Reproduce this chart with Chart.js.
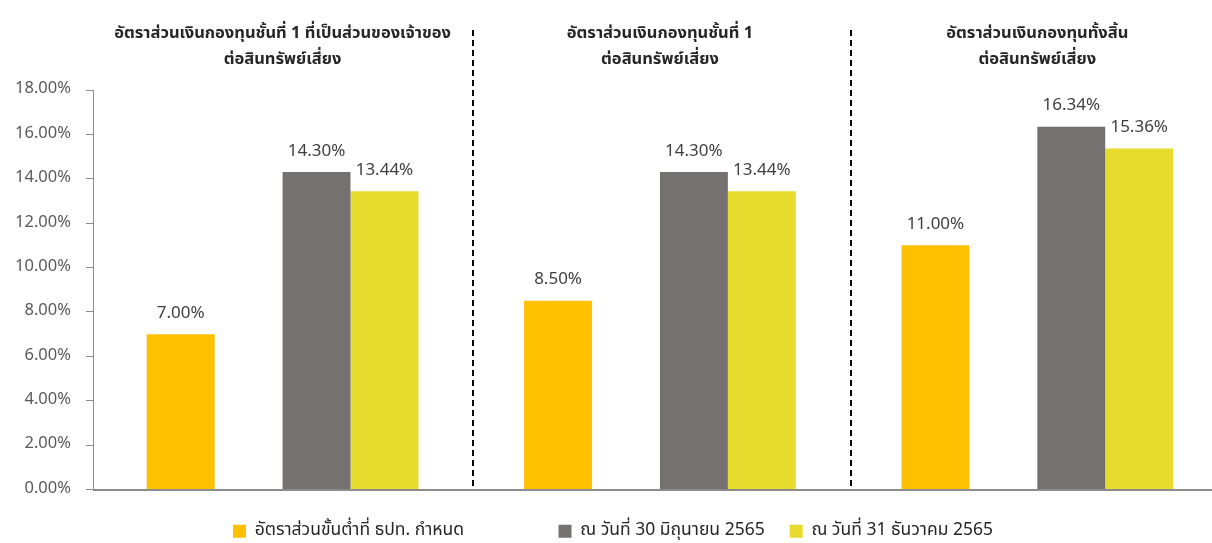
<!DOCTYPE html>
<html>
<head>
<meta charset="utf-8">
<script src="https://cdn.jsdelivr.net/npm/chart.js@4.4.1/dist/chart.umd.min.js"></script>
<style>
    html, body { margin: 0; padding: 0; background: #fff; overflow: hidden; }
    #wrap { width: 1226px; height: 543px; position: relative; }
</style>
</head>
<body>
<div id="wrap"><canvas id="capitalChart"></canvas></div>
<script>
// group titles (drawn on the top axis)
var groupTitles = [
    ['อัตราส่วนเงินกองทุนชั้นที่ 1 ที่เป็นส่วนของเจ้าของ', 'ต่อสินทรัพย์เสี่ยง'],
    ['อัตราส่วนเงินกองทุนชั้นที่ 1', 'ต่อสินทรัพย์เสี่ยง'],
    ['อัตราส่วนเงินกองทุนทั้งสิ้น', 'ต่อสินทรัพย์เสี่ยง']
];
var seriesNames = [
    'อัตราส่วนขั้นต่ำที่ ธปท. กำหนด',
    'ณ วันที่ 30 มิถุนายน 2565',
    'ณ วันที่ 31 ธันวาคม 2565'
];
var minimumRatio = [7.00, 8.50, 11.00];
var ratioJun2565 = [14.30, 14.30, 16.34];
var ratioDec2565 = [13.44, 13.44, 15.36];
var yTicks = [0, 2, 4, 6, 8, 10, 12, 14, 16, 18];

var thaiFont = "Tahoma, 'Noto Sans Thai', 'Noto Sans', 'Liberation Sans', sans-serif";

document.addEventListener('DOMContentLoaded', function () {
    var ctx = document.getElementById('capitalChart').getContext('2d');

    // dashed separators between the groups
    var separators = {
        id: 'separators',
        afterDraw: function (chart) {
            var x = chart.scales.x, area = chart.chartArea, c = chart.ctx;
            c.save();
            c.strokeStyle = '#000';
            c.lineWidth = 2;
            c.setLineDash([6, 4]);
            for (var i = 1; i < groupTitles.length; i++) {
                var px = Math.round((x.getPixelForValue(i - 1) + x.getPixelForValue(i)) / 2) + 2;
                c.beginPath();
                c.moveTo(px, 30);
                c.lineTo(px, area.bottom - 2);
                c.stroke();
            }
            c.restore();
        }
    };

    // value labels above the bars
    var valueLabels = {
        id: 'valueLabels',
        afterDatasetsDraw: function (chart) {
            var c = chart.ctx;
            c.save();
            c.font = "17px " + thaiFont;
            c.fillStyle = '#404040';
            c.textAlign = 'center';
            c.textBaseline = 'middle';
            chart.data.datasets.forEach(function (ds, di) {
                if (ds.spacer) return;
                chart.getDatasetMeta(di).data.forEach(function (bar, i) {
                    c.fillText(ds.data[i].toFixed(2) + '%', bar.x, bar.y - 20);
                });
            });
            c.restore();
        }
    };

    new Chart(ctx, {
        type: 'bar',
        data: {
            labels: groupTitles,
            datasets: [
                { label: seriesNames[0], data: minimumRatio, backgroundColor: '#FFC000' },
                // empty slot between the minimum and the two dates, as in the original
                { label: '     ', data: [null, null, null], backgroundColor: 'rgba(0,0,0,0)', spacer: true },
                { label: seriesNames[1], data: ratioJun2565, backgroundColor: '#767171' },
                { label: seriesNames[2], data: ratioDec2565, backgroundColor: '#E7DB2E' }
            ]
        },
        options: {
            responsive: true,
            maintainAspectRatio: false,
            animation: false,
            categoryPercentage: 0.72,
            barPercentage: 1,
            layout: { padding: { top: 6, right: 0, left: 0, bottom: -7 } },
            plugins: {
                tooltip: { enabled: false },
                legend: {
                    position: 'bottom',
                    labels: {
                        boxWidth: 13,
                        boxHeight: 13,
                        padding: 25,
                        color: '#262626',
                        font: { family: thaiFont, size: 17.5 }
                    }
                }
            },
            scales: {
                x: {
                    grid: { display: false },
                    border: { color: '#8c8c8c', width: 2 },
                    ticks: { display: false }
                },
                x2: {
                    position: 'top',
                    labels: groupTitles,
                    grid: { display: false, drawTicks: false },
                    border: { display: false },
                    ticks: {
                        color: '#262626',
                        padding: 16,
                        maxRotation: 0,
                        autoSkip: false,
                        font: { family: thaiFont, size: 16.5, weight: 'bold', lineHeight: '26px' }
                    }
                },
                y: {
                    min: 0,
                    max: 18,
                    afterBuildTicks: function (axis) {
                        axis.ticks = yTicks.map(function (v) { return { value: v }; });
                    },
                    grid: { drawOnChartArea: false, tickLength: 8, color: '#8c8c8c' },
                    border: { color: '#8c8c8c', width: 1 },
                    ticks: {
                        padding: 15,
                        color: '#595959',
                        font: { family: thaiFont, size: 16.5 },
                        callback: function (v) { return v.toFixed(2) + '%'; }
                    }
                }
            }
        },
        plugins: [separators, valueLabels]
    });
});
</script>
</body>
</html>
